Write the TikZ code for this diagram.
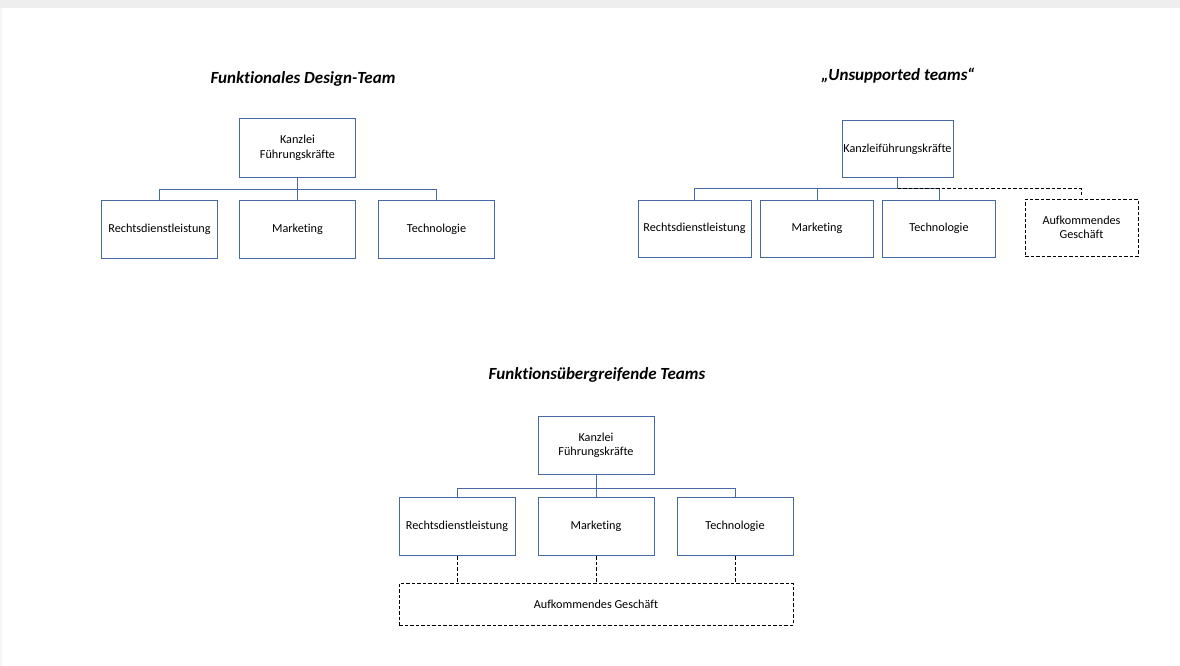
\documentclass[tikz,border=0pt]{standalone}
\usepackage{fontspec}
\setmainfont[Ligatures=NoCommon]{Carlito}
\usetikzlibrary{positioning}
\definecolor{boxblue}{RGB}{70,104,163}
\definecolor{edgegray}{RGB}{238,238,238}
\tikzset{
  unit/.style={draw=boxblue,line width=1pt,minimum width=116pt,minimum height=58pt,
    inner sep=1pt,align=center,font=\fontsize{12.2}{14.5}\selectfont},
  newunit/.style={draw=black,line width=0.9pt,dash pattern=on 3.5pt off 2pt,
    inner sep=1pt,align=center,font=\fontsize{12.2}{14.5}\selectfont},
  tree/.style={draw=boxblue,line width=1pt},
  loose/.style={draw=black,line width=0.9pt,dash pattern=on 3.5pt off 2pt},
  heading/.style={font=\fontsize{17}{20}\selectfont\bfseries\itshape},
}
\begin{document}
\begin{tikzpicture}[x=1pt,y=-1pt,line cap=butt,line join=miter]
  \useasboundingbox (0,0) rectangle (1180,666);
  \fill[edgegray] (0,0) rectangle (1180,8);
  \fill[edgegray!60] (0,8) rectangle (2,666);

  % functional design team
  \node[heading] (t1) at (303,79) {Funktionales Design-Team};
  \node[unit] (k1) at (297.5,148) {Kanzlei\\Führungskräfte};
  \node[unit] (r1) at (159.5,229) {Rechtsdienstleistung};
  \node[unit] (m1) at (297.5,229) {Marketing};
  \node[unit] (c1) at (436.5,229) {Technologie};
  \draw[tree] (k1.south) -- ++(0,12) coordinate (b1);
  \foreach \n in {r1,m1,c1}
    \draw[tree] (b1) -| (\n.north);

  % unsupported teams
  \node[heading] (t2) at (898,76) {„Unsupported teams“};
  \node[unit,minimum width=111pt,minimum height=56pt] (k2) at (897.5,149) {Kanzleiführungskräfte};
  \node[unit,minimum width=113pt,minimum height=57pt] (r2) at (694.5,228.5) {Rechtsdienstleistung};
  \node[unit,minimum width=113pt,minimum height=57pt] (m2) at (817,228.5) {Marketing};
  \node[unit,minimum width=113pt,minimum height=57pt] (c2) at (939,228.5) {Technologie};
  \node[newunit,minimum width=113pt,minimum height=57pt] (n2) at (1081.5,227.5) {Aufkommendes\\Geschäft};
  \draw[tree] (k2.south) -- ++(0,11) coordinate (b2);
  \foreach \n in {r2,m2,c2}
    \draw[tree] (b2) -| (\n.north);
  \draw[loose,shorten >=4pt] (b2) -| (n2.north);

  % cross-functional teams
  \node[heading] (t3) at (597,375) {Funktionsübergreifende Teams};
  \node[unit] (k3) at (596,445.5) {Kanzlei\\Führungskräfte};
  \node[unit] (r3) at (457,526.5) {Rechtsdienstleistung};
  \node[unit] (m3) at (596,526.5) {Marketing};
  \node[unit] (c3) at (735,526.5) {Technologie};
  \node[newunit,minimum width=394pt,minimum height=42pt] (n3) at (596,604) {Aufkommendes Geschäft};
  \draw[tree] (k3.south) -- ++(0,13) coordinate (b3);
  \foreach \n in {r3,m3,c3}
    \draw[tree] (b3) -| (\n.north);
  \foreach \n in {r3,m3,c3}
    \draw[loose] (\n.south) -- (\n.south |- n3.north);
\end{tikzpicture}
\end{document}
